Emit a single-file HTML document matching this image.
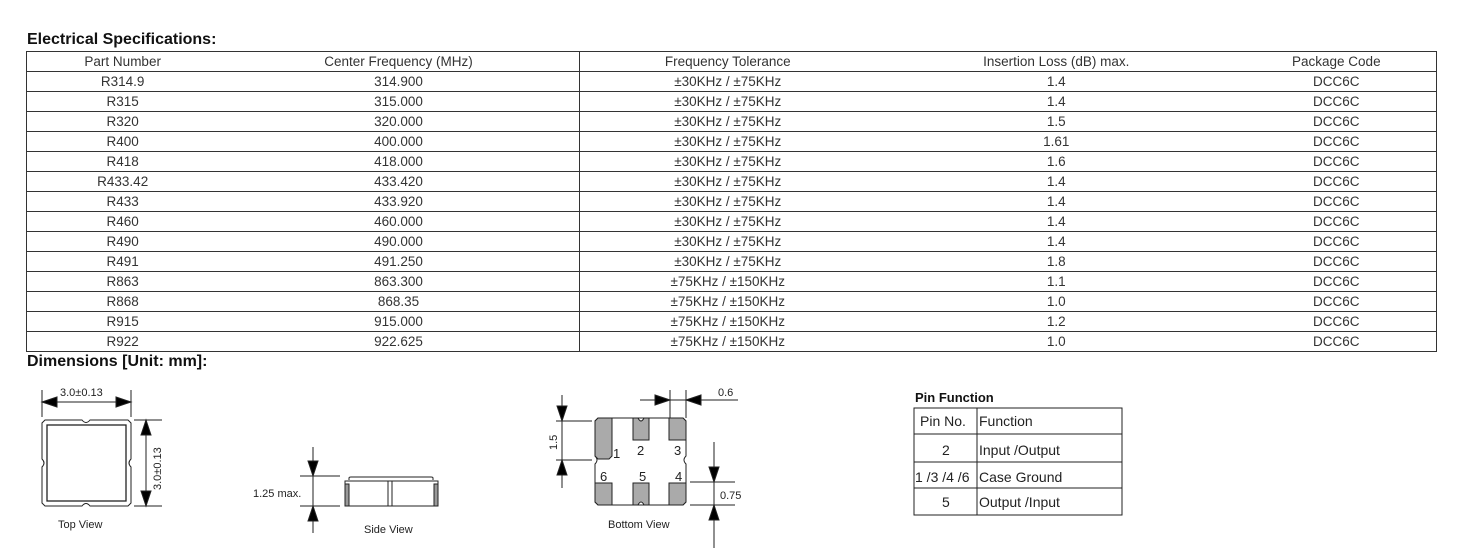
<!DOCTYPE html>
<html><head><meta charset="utf-8"><style>
body{margin:0;background:#fff;width:1466px;height:559px;overflow:hidden;position:relative;font-family:"Liberation Sans",sans-serif;color:#222}
.h{position:absolute;font-weight:bold;font-size:16px;color:#111}
table.s{position:absolute;left:26px;top:51px;width:1411px;border-collapse:collapse;font-size:13.5px}
table.s td{height:19px;padding:0;text-align:center;border-top:1px solid #333;border-bottom:1px solid #333;line-height:19px;color:#333}
table.s td.b{border-right:1px solid #333}
table.s tr td:first-child{border-left:1px solid #333}
table.s tr td:last-child{border-right:1px solid #333}
</style></head><body>
<div class="h" style="left:27px;top:31px">Electrical Specifications:</div>
<table class="s">
<colgroup><col style="width:192px"><col style="width:361px"><col style="width:297px"><col style="width:361px"><col style="width:200px"></colgroup>
<tr><td>Part Number</td><td class="b">Center Frequency (MHz)</td><td>Frequency Tolerance</td><td>Insertion Loss (dB) max.</td><td>Package Code</td></tr>
<tr><td>R314.9</td><td class="b">314.900</td><td>±30KHz / ±75KHz</td><td>1.4</td><td>DCC6C</td></tr>
<tr><td>R315</td><td class="b">315.000</td><td>±30KHz / ±75KHz</td><td>1.4</td><td>DCC6C</td></tr>
<tr><td>R320</td><td class="b">320.000</td><td>±30KHz / ±75KHz</td><td>1.5</td><td>DCC6C</td></tr>
<tr><td>R400</td><td class="b">400.000</td><td>±30KHz / ±75KHz</td><td>1.61</td><td>DCC6C</td></tr>
<tr><td>R418</td><td class="b">418.000</td><td>±30KHz / ±75KHz</td><td>1.6</td><td>DCC6C</td></tr>
<tr><td>R433.42</td><td class="b">433.420</td><td>±30KHz / ±75KHz</td><td>1.4</td><td>DCC6C</td></tr>
<tr><td>R433</td><td class="b">433.920</td><td>±30KHz / ±75KHz</td><td>1.4</td><td>DCC6C</td></tr>
<tr><td>R460</td><td class="b">460.000</td><td>±30KHz / ±75KHz</td><td>1.4</td><td>DCC6C</td></tr>
<tr><td>R490</td><td class="b">490.000</td><td>±30KHz / ±75KHz</td><td>1.4</td><td>DCC6C</td></tr>
<tr><td>R491</td><td class="b">491.250</td><td>±30KHz / ±75KHz</td><td>1.8</td><td>DCC6C</td></tr>
<tr><td>R863</td><td class="b">863.300</td><td>±75KHz / ±150KHz</td><td>1.1</td><td>DCC6C</td></tr>
<tr><td>R868</td><td class="b">868.35</td><td>±75KHz / ±150KHz</td><td>1.0</td><td>DCC6C</td></tr>
<tr><td>R915</td><td class="b">915.000</td><td>±75KHz / ±150KHz</td><td>1.2</td><td>DCC6C</td></tr>
<tr><td>R922</td><td class="b">922.625</td><td>±75KHz / ±150KHz</td><td>1.0</td><td>DCC6C</td></tr>
</table>
<div class="h" style="left:27px;top:353px">Dimensions [Unit: mm]:</div>
<svg width="1466" height="559" style="position:absolute;left:0;top:0" font-family="Liberation Sans, sans-serif" font-size="11" fill="none" stroke="#222" stroke-width="1">
<path d="M45,420 H82 Q86,425 90,420 H128 L131,423 V459 Q127,463 131,467 V503 L128,506 H90 Q86,501 82,506 H45 L42,503 V467 Q46,463 42,459 V423 Z"/>
<rect x="47" y="425" width="79" height="76" stroke-width="1.3"/>
<line x1="42" y1="390" x2="42" y2="417"/><line x1="131" y1="390" x2="131" y2="417"/>
<line x1="42" y1="402" x2="131" y2="402"/>
<polygon points="42,402 57,397 57,407" fill="#000"/><polygon points="131,402 116,397 116,407" fill="#000"/>
<text x="60" y="396" fill="#222" stroke="none">3.0±0.13</text>
<line x1="134" y1="420" x2="162" y2="420"/><line x1="134" y1="506" x2="162" y2="506"/>
<line x1="146" y1="420" x2="146" y2="506"/>
<polygon points="146,420 141,435 151,435" fill="#000"/><polygon points="146,506 141,491 151,491" fill="#000"/>
<text transform="translate(161,490) rotate(-90)" fill="#222" stroke="none">3.0±0.13</text>
<text x="58" y="528" fill="#222" stroke="none">Top View</text>
<path d="M349,480 V478 Q349,477 351,477 H431 Q433,477 433,478 V480"/>
<rect x="345" y="481" width="93" height="25"/>
<rect x="345" y="484" width="4" height="22" fill="#999"/><rect x="434" y="484" width="4" height="22" fill="#999"/>
<line x1="388" y1="481" x2="388" y2="506"/><line x1="392" y1="481" x2="392" y2="506"/>
<line x1="300" y1="476" x2="340" y2="476"/><line x1="300" y1="506" x2="340" y2="506"/>
<line x1="313" y1="447" x2="313" y2="533"/>
<polygon points="313,476 308,461 318,461" fill="#000"/><polygon points="313,506 308,521 318,521" fill="#000"/>
<text x="253" y="497" fill="#222" stroke="none">1.25 max.</text>
<text x="364" y="533" fill="#222" stroke="none">Side View</text>
<path d="M598,418 H683 L686,421 V456 Q682,460 686,464 V502 L683,505 H598 L595,502 V464 Q599,460 595,456 V421 Z"/>
<path d="M598,418 H612 V456 L609,459 H598 L595,456 V421 Z" fill="#aaa"/>
<path d="M633,418 H638 Q641,424 644,418 H649 V440 H633 Z" fill="#aaa"/>
<path d="M669,418 H683 L686,421 V440 H669 Z" fill="#aaa"/>
<path d="M595,483 H612 V505 H598 L595,502 Z" fill="#aaa"/>
<path d="M633,483 H649 V505 H644 Q641,499 638,505 H633 Z" fill="#aaa"/>
<path d="M669,483 H686 V502 L683,505 H669 Z" fill="#aaa"/>
<g fill="#222" stroke="none" font-size="13">
<text x="613" y="458">1</text><text x="637" y="455">2</text><text x="674" y="455">3</text>
<text x="600" y="481">6</text><text x="639" y="481">5</text><text x="675" y="481">4</text></g>
<line x1="556" y1="421" x2="592" y2="421"/><line x1="556" y1="460" x2="592" y2="460"/>
<line x1="562" y1="395" x2="562" y2="488"/>
<polygon points="562,421 557,406 567,406" fill="#000"/><polygon points="562,460 557,475 567,475" fill="#000"/>
<text transform="translate(557,450) rotate(-90)" fill="#222" stroke="none">1.5</text>
<line x1="670" y1="390" x2="670" y2="418"/><line x1="686" y1="390" x2="686" y2="418"/>
<line x1="640" y1="400" x2="738" y2="400"/>
<polygon points="670,400 655,395 655,405" fill="#000"/><polygon points="686,400 701,395 701,405" fill="#000"/>
<text x="718" y="396" fill="#222" stroke="none">0.6</text>
<line x1="690" y1="482" x2="735" y2="482"/><line x1="690" y1="505" x2="735" y2="505"/>
<line x1="714" y1="442" x2="714" y2="548"/>
<polygon points="714,482 709,467 719,467" fill="#000"/><polygon points="714,505 709,520 719,520" fill="#000"/>
<text x="720" y="499" fill="#222" stroke="none">0.75</text>
<text x="608" y="528" fill="#222" stroke="none">Bottom View</text>
<text x="915" y="402" fill="#111" stroke="none" font-weight="bold" font-size="13">Pin Function</text>
<rect x="914" y="408" width="208" height="107"/>
<line x1="977" y1="408" x2="977" y2="515"/>
<line x1="914" y1="434" x2="1122" y2="434"/><line x1="914" y1="462" x2="1122" y2="462"/><line x1="914" y1="488" x2="1122" y2="488"/>
<g fill="#222" stroke="none" font-size="14">
<text x="920" y="426">Pin No.</text><text x="979" y="426">Function</text>
<text x="942" y="455">2</text><text x="979" y="455">Input /Output</text>
<text x="915" y="482">1 /3 /4 /6</text><text x="979" y="482">Case Ground</text>
<text x="942" y="507">5</text><text x="979" y="507">Output /Input</text></g>
</svg>
</body></html>
